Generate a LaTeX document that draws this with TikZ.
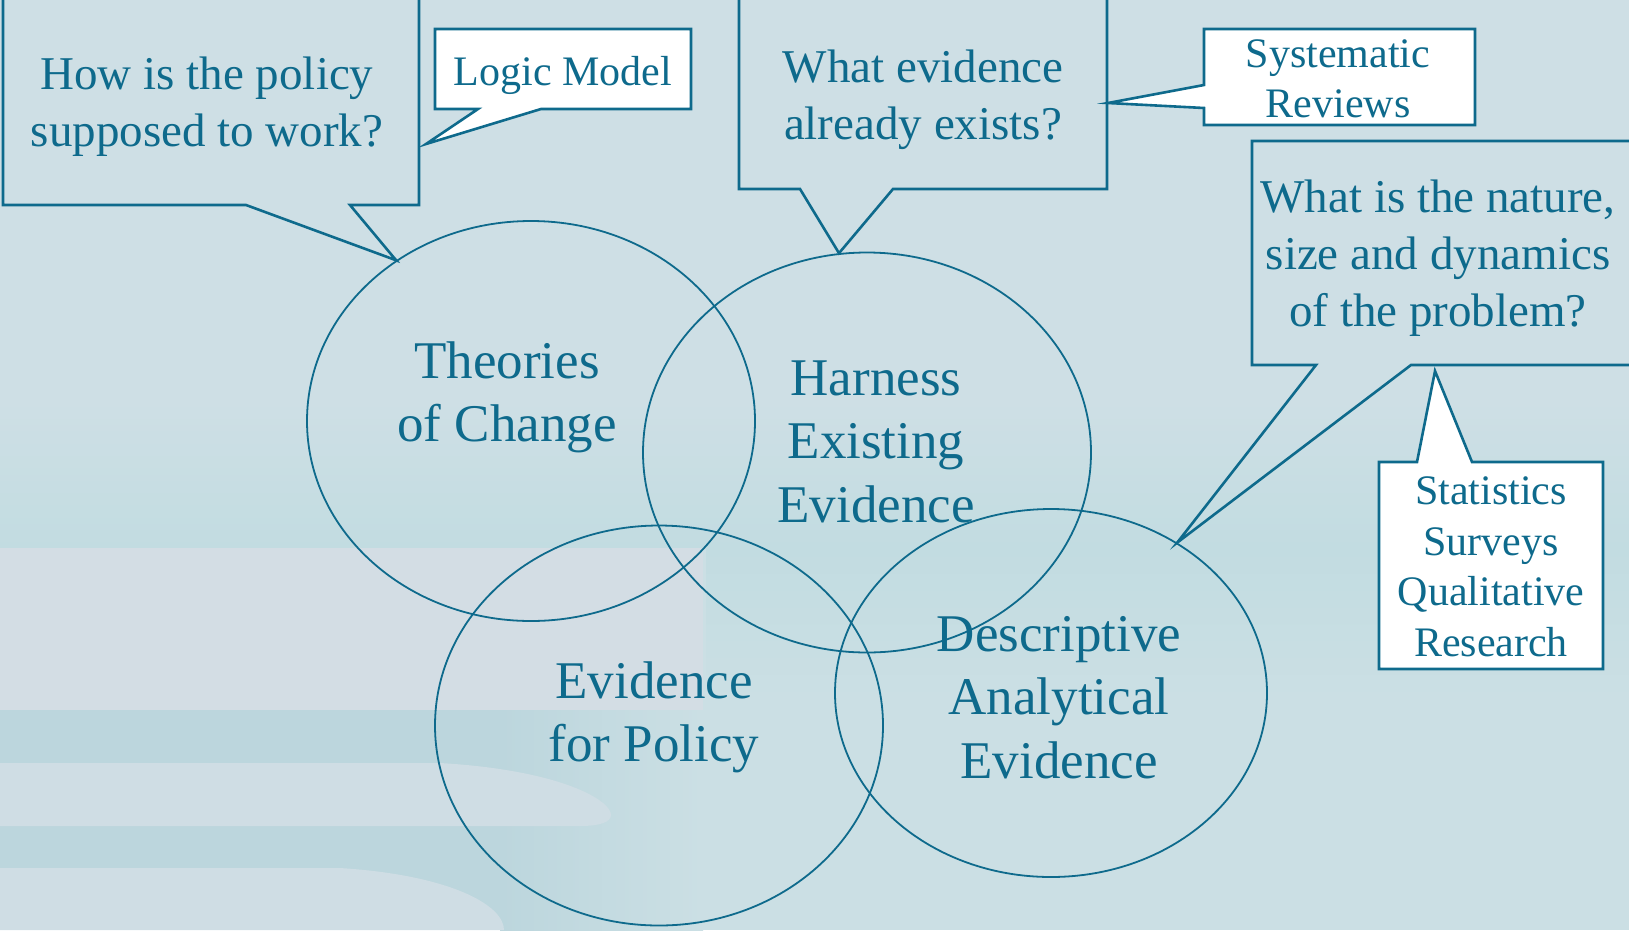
\documentclass[tikz,border=0pt]{standalone}
\usepackage{fontspec}
\setmainfont{Liberation Serif}
\usetikzlibrary{shapes.geometric}
\definecolor{ink}{RGB}{14,106,140}
\definecolor{bgc}{RGB}{206,223,229}
\definecolor{bgteal}{RGB}{194,220,225}
\definecolor{bgright}{RGB}{203,223,228}
\definecolor{decolight}{RGB}{211,221,228}
\definecolor{decoteal}{RGB}{188,214,221}
\definecolor{decoband}{RGB}{207,221,228}
\begin{document}
\begin{tikzpicture}[x=1pt,y=-1pt,
  callout/.style={draw=ink, line width=2.6pt, line join=miter},
  labelbox/.style={callout, fill=white},
  oval/.style={ellipse, draw=ink, line width=1.8pt, inner sep=0pt, minimum width=448pt, minimum height=400pt},
  qtext/.style={text=ink, inner sep=0pt, anchor=base, align=center, font=\fontsize{47}{57}\selectfont},
  ltext/.style={text=ink, inner sep=0pt, anchor=base, align=center, font=\fontsize{42}{50.5}\selectfont},
  btext/.style={text=ink, inner sep=0pt, anchor=base, align=center, font=\fontsize{53}{63.5}\selectfont}]
\useasboundingbox (0,0) rectangle (1629,930);
\clip (0,0) rectangle (1629,930);
% background
\fill[bgc] (0,0) rectangle (1629,930);
\shade[top color=bgc, bottom color=bgteal] (0,400) rectangle (1629,548);
\shade[top color=bgteal, bottom color=bgright] (703,548) rectangle (1629,700);
\fill[bgright] (703,700) rectangle (1629,930);
\fill[decoteal] (0,710) rectangle (500,930);
\shade[left color=decoteal, right color=bgright] (500,710) rectangle (703,930);
\fill[bgright] (703,548) rectangle (706,710);
\fill[decolight] (0,548) rectangle (703,710);
\fill[decoband] (0,763) -- (440,763) .. controls (560,770) and (611,800) .. (611,815) .. controls (611,822) and (600,826) .. (580,826) -- (0,826) -- cycle;
\fill[decoband] (0,868) -- (340,868) .. controls (450,875) and (504,905) .. (504,930) -- (0,930) -- cycle;

% ellipses
\node[oval] (e1) at (531,421) {};
\node[oval] (e2) at (867,452.5) {};
\node[oval] (e3) at (659,725.5) {};
\node[oval, minimum width=432pt, minimum height=368pt] (e4) at (1051,693) {};

\node[btext] (t1) at (507,441.5) {Theories\\of Change};
\node[btext] (t2) at (876,522) {Harness\\Existing\\Evidence};
\node[btext] (t3) at (654,761.5) {Evidence\\for Policy};
\node[btext] (t4) at (1059,778) {Descriptive\\Analytical\\Evidence};

% question callouts
\coordinate (p1) at (e1.130);
\coordinate (p2) at (e2.98);
\coordinate (p3) at (e4.50);
\draw[callout] (3,-10) -- (419,-10) -- (419,205) -- (350,205) -- (p1) -- (246,205) -- (3,205) -- cycle;
\draw[callout] (739,-10) -- (1107,-10) -- (1107,189) -- (893,189) -- (p2) -- (800,189) -- (739,189) -- cycle;
\draw[callout] (1252,141) -- (1645,141) -- (1645,365) -- (1411,365) -- (p3) -- (1316,365) -- (1252,365) -- cycle;

\node[qtext] (q1) at (207,146) {How is the policy\\supposed to work?};
\node[qtext] (q2) at (923,139) {What evidence\\already exists?};
\node[qtext] (q3) at (1438,326) {What is the nature,\\size and dynamics\\of the problem?};

% method callouts
\coordinate (m1) at (426,144);
\coordinate (m2) at (1108,103);
\coordinate (m3) at (1435,371);
\draw[labelbox] (435,29) -- (691,29) -- (691,109) -- (541,109) -- (m1) -- (478,109) -- (435,109) -- cycle;
\draw[labelbox] (1204,29) -- (1475,29) -- (1475,125) -- (1204,125) -- (1204,108) -- (m2) -- (1204,85) -- cycle;
\draw[labelbox] (1379,462) -- (1417,462) -- (m3) -- (1472,462) -- (1603,462) -- (1603,669) -- (1379,669) -- cycle;

\node[ltext] (l1) at (563,85) {Logic Model};
\node[ltext] (l2) at (1338,117.5) {Systematic\\Reviews};
\node[ltext] (l3) at (1491,656) {Statistics\\Surveys\\Qualitative\\Research};
\end{tikzpicture}
\end{document}
